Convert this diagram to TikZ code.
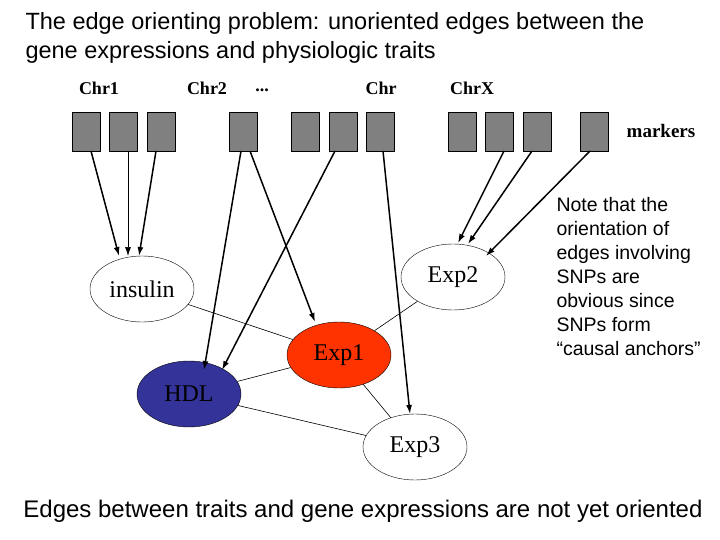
\documentclass[tikz,border=0pt]{standalone}
\usepackage{fontspec}
\setmainfont{Liberation Serif}
\newfontfamily\sans{Liberation Sans}
\usetikzlibrary{shapes.geometric,arrows.meta}
\begin{document}
\begin{tikzpicture}[x=1pt,y=-1pt,
  mk/.style={draw,fill=black!50,minimum width=28pt,minimum height=39pt,inner sep=0},
  el/.style={draw,ellipse,minimum width=104pt,minimum height=66pt,inner sep=0,font=\fontsize{24}{24}\selectfont},
  chr/.style={font=\bfseries\fontsize{18}{18}\selectfont},
  arr/.style={-{Latex[length=9pt,width=6pt]},line width=1.5pt},
  und/.style={line width=0.6pt}]
\useasboundingbox (0,0) rectangle (720,540);
\node[anchor=west,align=left,font=\sans\fontsize{23.5}{29}\selectfont] (title) at (22,38) {The edge orienting problem: unoriented edges between the\\gene expressions and physiologic traits};
\node[chr] (c1) at (99,88) {Chr1};
\node[chr] (c2) at (207,88) {Chr2};
\node[chr] (c3) at (262,90) {...};
\node[chr] (c4) at (381,88) {Chr};
\node[chr] (c5) at (472,88) {ChrX};
\node[chr,font=\bfseries\fontsize{19}{19}\selectfont] (mk) at (661,131) {markers};
\foreach \i/\x in {1/86,2/123.5,3/161.5,4/243,5/305,6/343,7/380,8/462,9/499.5,10/537,11/594}
  \node[mk] (m\i) at (\x,131.5) {};
\node[el] (ins) at (142,289) {insulin};
\node[el] (e2) at (453,277) {Exp2};
\node[el,fill={rgb,255:red,255;green,51;blue,0}] (e1) at (339,355) {Exp1};
\node[el,fill={rgb,255:red,51;green,51;blue,153}] (hdl) at (189,394) {HDL};
\node[el] (e3) at (415,447) {Exp3};
\coordinate (t1) at (119,256); \coordinate (t2) at (128,256); \coordinate (t3) at (139,256);
\draw[arr] (91,151) -- (t1);
\draw[-{Latex[length=9pt,width=6pt]},line width=0.7pt] (128,151) -- (t2);
\draw[arr] (156,151) -- (t3);
\draw[arr] (241,151) -- (204,370);
\draw[arr] (250,151) -- (315,322);
\draw[arr] (335,151) -- (222,370);
\draw[arr] (383,151) -- (410,414);
\draw[arr] (504,151) -- (458,243);
\draw[arr] (532,151) -- (468,244);
\draw[arr] (590,151) -- (486,256);
\draw[und] (ins) -- (e1);
\draw[und] (e2) -- (e1);
\draw[und] (hdl) -- (e1);
\draw[und] (hdl) -- (e3);
\draw[und] (e1) -- (e3);
\node[anchor=north west,align=left,font=\sans\fontsize{19.5}{24}\selectfont] (note) at (553,194) {Note that the\\orientation of\\edges involving\\SNPs are\\obvious since\\SNPs form\\“causal anchors”};
\node[font=\sans\fontsize{24}{28}\selectfont] (bot) at (363,511) {Edges between traits and gene expressions are not yet oriented};
\end{tikzpicture}
\end{document}
